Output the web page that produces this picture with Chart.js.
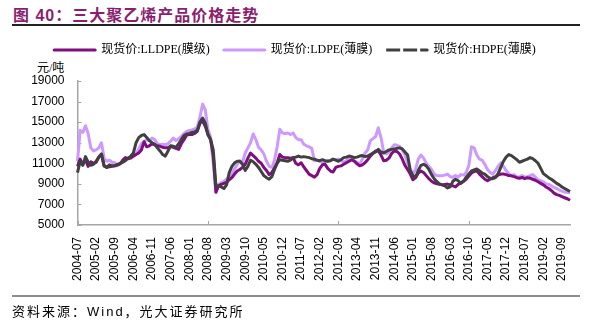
<!DOCTYPE html>
<html>
<head>
<meta charset="utf-8">
<script src="https://cdn.jsdelivr.net/npm/chart.js@4"></script>
<style>
  html, body { margin: 0; padding: 0; background: #fff; }
  body { width: 589px; height: 325px; position: relative; overflow: hidden; }
  #title { position: absolute; left: 13px; top: 2px; font: bold 16px 'Liberation Sans', 'Noto Sans CJK SC', sans-serif; letter-spacing: 1px; color: #8a1f6f; white-space: nowrap; }
  #topRule { position: absolute; left: 12px; top: 24px; width: 568px; height: 1.5px; background: #222; }
  #unit { position: absolute; left: 37px; top: 58px; font: 12px 'Liberation Serif', 'Noto Sans CJK SC', serif; color: #000; }
  #bottomRule { position: absolute; left: 12px; top: 295px; width: 568px; height: 2px; background: #8c8c8c; }
  #source { position: absolute; left: 12px; top: 301px; font: 13px 'Liberation Sans', 'Noto Sans CJK SC', sans-serif; letter-spacing: 2px; color: #000; white-space: nowrap; }
  #wrap { position: absolute; left: 0; top: 28px; width: 589px; height: 268px; }
</style>
</head>
<body>
<div id="title">图 40：三大聚乙烯产品价格走势</div>
<div id="topRule"></div>
<div id="unit">元/吨</div>
<div id="wrap"><canvas id="priceChart" width="589" height="268"></canvas></div>
<div id="bottomRule"></div>
<div id="source">资料来源：Wind，光大证券研究所</div>
<script>
// monthly dates 2004-07 .. 2019-12
const months = [];
for (let y = 2004, m = 7; y < 2020; m++) {
    if (m > 12) { m = 1; y++; if (y === 2020) break; }
    months.push(y + '-' + String(m).padStart(2, '0'));
}
const tickEvery = 7;

const seriesNames = ['现货价:LLDPE(膜级)', '现货价:LDPE(薄膜)', '现货价:HDPE(薄膜)'];

const lldpe = [
    10700, 11400, 10900, 11350, 10700, 11150, 11000, 11100, 11600, 11900,
    10750, 10600, 10650, 10700, 10750, 10850, 10950, 11300, 11550, 11450,
    11500, 11700, 11850, 12000, 12300, 13100, 12600, 12700, 12900, 12800,
    12700, 12650, 12550, 12500, 12520, 12650, 12550,
    12450, 12350, 12900, 13300, 13750, 13800, 13800, 13900, 14100, 14900, 15100, 14600, 13800,
    13300, 11700, 8200, 8800, 8950, 9050, 9150, 9400, 9600, 9950, 10250, 10400, 10600,
    10900, 11500, 12000, 11750, 11500, 11200, 11000, 10600, 10300, 9900,
    10100, 10550, 11050, 11850, 11600, 11550, 11550, 11500, 11550, 11000, 10850, 11050, 10650, 10300,
    9950, 9800, 9650, 9900, 10500, 10850, 10900, 10500, 10250, 10150, 10600, 10700, 10750,
    10900, 11050, 11200, 11350, 11200, 10950, 10750, 10850,
    11050, 11350, 11700, 11950, 12200, 12200, 11800, 11250, 11300, 11500, 11950, 12200,
    12150, 11900, 11400, 10800, 10400, 9950, 9400, 9600, 10050, 10250, 10100, 9800, 9500, 9250,
    9100, 9000, 8950, 8900, 8950, 8980, 8900, 8800, 8700, 8950, 9100, 9250,
    9450, 9750, 10050, 10200, 10250, 9950, 9700, 9450, 9300, 9450, 9600, 9700, 9850, 9950,
    9950, 9900, 9800, 9780, 9700, 9600, 9550, 9620, 9500, 9600, 9550, 9450, 9350,
    9200, 9050, 8900, 8700, 8550, 8350, 8100, 7950, 7880, 7750, 7650, 7550, 7400
];

const ldpe = [
    11200, 14200, 14000, 14650, 13900, 12500, 12200, 12300, 12500, 13000,
    11500, 11200, 11300, 11100, 11050, 10750, 10950, 11200, 11400, 11500,
    11550, 11700, 11900, 12400, 12900, 13100, 13300, 13200, 13450, 13300,
    12900, 12800, 12850, 12800, 12900, 13150, 13450,
    13200, 13400, 13600, 13900, 14100, 14200, 14250, 14350, 14500, 15500, 16750, 16200, 14300,
    13500, 11000, 8150, 8950, 9100, 9250, 9450, 9650, 9950, 10450, 10900, 11250, 11100,
    12000, 12500, 13000, 13850, 13300, 12550, 12300, 11900, 11200, 10700,
    10600, 11300, 12600, 14300, 13950, 13900, 13950, 13800, 13950, 13500, 13300, 13300, 12850, 12700,
    12600, 12450, 11250, 11300, 11200, 11100, 11150, 11250, 11300, 11400, 11350, 11400, 11300,
    11100, 11250, 11550, 11400, 11250, 11100, 10900, 11400,
    12000, 12300, 13200, 13400, 13600, 14450, 13500, 12100, 11900, 12100, 12500, 12800,
    12750, 12650, 12300, 11800, 11000, 10400, 10000, 10400, 11400, 11800, 11500, 11000, 10700, 10400,
    9950, 9800, 9780, 9800, 9850, 9950, 9700, 9650, 9800, 9650, 9900, 9850,
    10100, 10800, 12600, 12500, 11800, 11400, 11300, 10900, 10400, 10100, 9950, 10300, 10700, 11050,
    10700, 10300, 10000, 9800, 9900, 9700, 9650, 9800, 9650, 9700, 9800, 9900, 9650,
    9400, 9300, 9200, 9000, 8950, 8800, 8650, 8550, 8400, 8300, 8200, 8150, 8130
];

const hdpe = [
    10100, 11200, 10800, 11650, 11100, 10800, 10900, 11200, 11600, 11900,
    10750, 10600, 10850, 10750, 10750, 10900, 11000, 11100, 11250, 11500,
    11700, 12000, 13000, 13500, 13700, 13790, 13500, 13200, 13000, 12850,
    12500, 12200, 11850, 11700, 12200, 12700, 12650,
    12550, 12900, 13300, 13700, 13850, 13900, 14000, 14050, 14200, 15000, 15400, 14900, 13800,
    13300, 12300, 8800, 8800, 8700, 8550, 8900, 10100, 10700, 11050, 11200, 11200, 10900,
    10300, 10700, 11300, 11150, 10900, 10600, 10200, 9800, 9600, 9450,
    9700, 10400, 11000, 11350, 11300, 11250, 11200, 11300, 11550, 11600, 11700, 11600, 11650, 11600,
    11550, 11450, 11400, 11300, 11250, 11350, 11250, 11200, 11250, 11400, 11300, 11200, 11350,
    11550, 11600, 11700, 11650, 11550, 11600, 11700, 11750,
    11650, 11700, 11850, 12000, 12100, 12350, 12100, 12000, 12150, 12300, 12350, 12400,
    12450, 12500, 12400, 12100, 11800, 10300, 9800, 9650, 10300, 10800, 10900, 10750, 10400, 9900,
    9500, 9200, 9000, 8900, 8800, 8600, 8700, 9250, 9450, 9300, 9050, 9250,
    9650, 9950, 10250, 10350, 10450, 10250, 10050, 9950, 9700, 9550, 9500, 9600, 10000, 10600,
    11200, 11600, 11850, 11750, 11550, 11350, 11100, 11200, 11300, 11400, 11550, 11450, 11250,
    11000, 10500, 10000, 9800, 9600, 9450, 9250, 9050, 8900, 8700, 8550, 8400, 8250
];

const axisColor = '#a6a6a6';
const sansFont = "'Liberation Sans', Arial, sans-serif";

// short tick marks pointing into the plot
const innerTicks = {
    id: 'innerTicks',
    beforeDatasetsDraw(chart) {
        const { ctx, chartArea, scales: { x, y } } = chart;
        ctx.save();
        ctx.strokeStyle = axisColor;
        ctx.lineWidth = 1;
        ctx.beginPath();
        x.ticks.forEach((t, i) => {
            if (i % tickEvery) return;
            const px = Math.round(x.getPixelForTick(i)) + 0.5;
            ctx.moveTo(px, chartArea.bottom);
            ctx.lineTo(px, chartArea.bottom - 4);
        });
        y.ticks.forEach((t, i) => {
            const py = Math.round(y.getPixelForTick(i)) + 0.5;
            ctx.moveTo(chartArea.left, py);
            ctx.lineTo(chartArea.left + 4, py);
        });
        ctx.stroke();
        ctx.restore();
    }
};

// extra room between the legend row and the plot
const legendGap = {
    id: 'legendGap',
    beforeInit(chart) {
        const fit = chart.legend.fit;
        chart.legend.fit = function () {
            fit.call(this);
            this.height += 15;
        };
    }
};

const ctx = document.getElementById('priceChart').getContext('2d');
new Chart(ctx, {
    type: 'line',
    data: {
        labels: months,
        datasets: [
            { label: seriesNames[0], data: lldpe, borderColor: '#7f0f7e', backgroundColor: '#7f0f7e', order: 1 },
            { label: seriesNames[1], data: ldpe, borderColor: '#cc99ff', backgroundColor: '#cc99ff', order: 2 },
            { label: seriesNames[2], data: hdpe, borderColor: '#404040', backgroundColor: '#404040', order: 0 }
        ]
    },
    options: {
        responsive: false,
        animation: false,
        devicePixelRatio: 1,
        layout: { padding: { left: 20, right: 19, top: 2, bottom: 0 } },
        elements: {
            line: { borderWidth: 3, tension: 0, borderJoinStyle: 'round' },
            point: { radius: 0 }
        },
        plugins: {
            tooltip: { enabled: false },
            legend: {
                position: 'top',
                labels: {
                    boxWidth: 41,
                    boxHeight: 0,
                    padding: 14,
                    color: '#000',
                    font: { family: "'Liberation Serif', 'Noto Sans CJK SC', serif", size: 12 },
                    sort: (a, b) => a.datasetIndex - b.datasetIndex,
                    generateLabels(chart) {
                        const items = Chart.defaults.plugins.legend.labels.generateLabels(chart);
                        items.forEach(it => {
                            it.lineCap = 'butt';
                            if (it.datasetIndex === 2) it.lineDash = [12, 5];
                        });
                        return items;
                    }
                }
            }
        },
        scales: {
            x: {
                offset: false,
                grid: { display: false, drawTicks: false },
                border: { display: true, color: axisColor, width: 1.5 },
                afterFit(scale) { scale.height = 71; },
                ticks: {
                    autoSkip: false,
                    maxRotation: 90,
                    minRotation: 90,
                    padding: 12,
                    color: '#000',
                    font: { family: sansFont, size: 12 },
                    callback(value, index) {
                        return index % tickEvery === 0 ? months[index] : null;
                    }
                }
            },
            y: {
                min: 5000,
                max: 19000,
                grid: { display: false, drawTicks: false },
                border: { display: true, color: axisColor, width: 1.5 },
                afterFit(scale) { scale.width = 57.5; },
                ticks: {
                    stepSize: 2000,
                    padding: 13,
                    color: '#000',
                    font: { family: sansFont, size: 12 },
                    callback: value => String(value)
                }
            }
        }
    },
    plugins: [innerTicks, legendGap]
});
</script>
</body>
</html>
